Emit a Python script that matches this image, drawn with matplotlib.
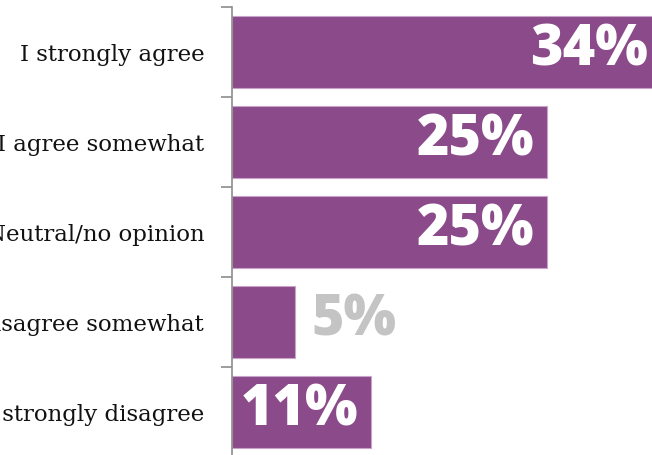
import matplotlib
matplotlib.use("Agg")
import matplotlib.pyplot as plt
import numpy as np

categories = [
    "I strongly agree",
    "I agree somewhat",
    "Neutral/no opinion",
    "I disagree somewhat",
    "I strongly disagree",
]
values = [34, 25, 25, 5, 11]
value_labels = ["34%", "25%", "25%", "5%", "11%"]

BAR = "#8b4a8a"
EDGE = "#c9a3c8"
SPINE = "#8c8c8c"
OUTSIDE = "#c4c4c4"

W, H = 652, 455
fig = plt.figure(figsize=(W / 100, H / 100), dpi=100)
fig.patch.set_facecolor("white")

# axes spans past the right and bottom edges of the canvas
px_per_unit = 12.6
x_max = 40
left, top, bottom = 232, 7, 457
ax = fig.add_axes([left / W, 1 - bottom / H, x_max * px_per_unit / W, (bottom - top) / H])

y = np.arange(len(categories))
ax.barh(y, values, height=0.8, color=BAR, edgecolor=EDGE, linewidth=0.8, zorder=2)

ax.set_xlim(0, x_max)
ax.set_ylim(len(categories) - 0.5, -0.5)

for yi, val, lab in zip(y, values, value_labels):
    inside = val >= 8
    ax.annotate(lab, (val, yi), xytext=(-9 if inside else 12, 1), textcoords="offset points",
                ha="right" if inside else "left", va="center",
                color="white" if inside else OUTSIDE, fontsize=40,
                fontfamily="Open Sans", fontweight="heavy")

# boundaries get the tick marks, centres carry the labels
ax.set_yticks(np.arange(-0.5, len(categories) + 0.5, 1.0))
ax.set_yticklabels([])
ax.tick_params(axis="y", which="major", length=8, width=1.2, color=SPINE, direction="out")
ax.set_yticks(y, minor=True)
ax.set_yticklabels(categories, minor=True, fontsize=16.5, fontfamily="DejaVu Serif", color="#111111")
ax.tick_params(axis="y", which="minor", length=0, pad=20)

ax.set_xticks([])
for side in ["top", "right", "bottom"]:
    ax.spines[side].set_visible(False)
ax.spines["left"].set_color(SPINE)
ax.spines["left"].set_linewidth(1.2)
ax.set_facecolor("none")

fig.savefig("out.png", dpi=100, facecolor="white")
